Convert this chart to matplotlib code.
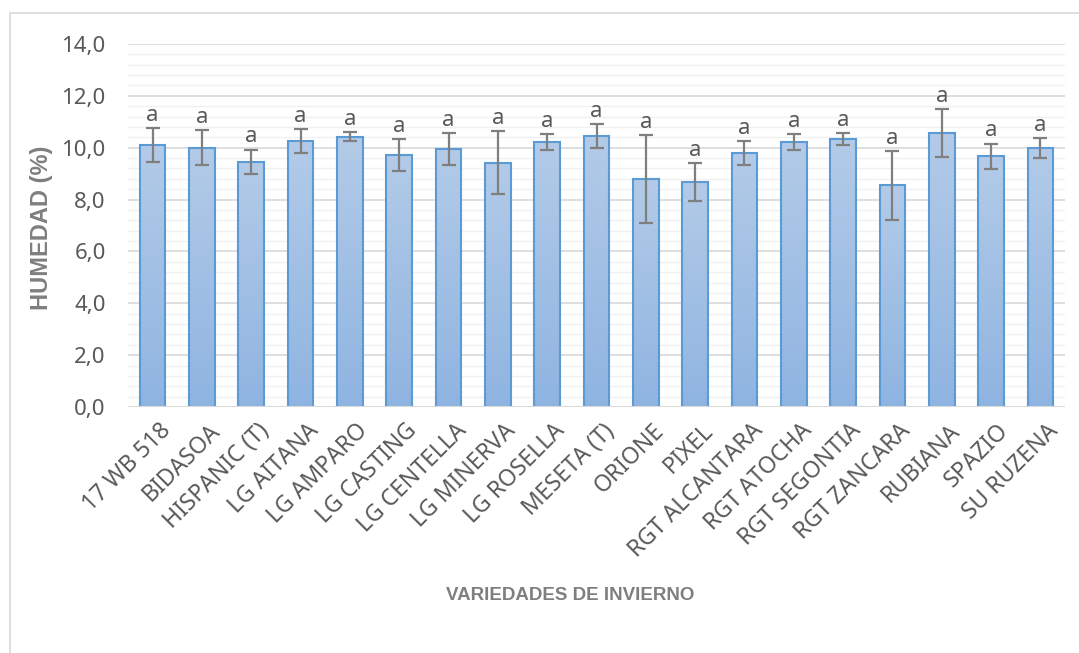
import matplotlib
matplotlib.use("Agg")
import matplotlib.pyplot as plt
import matplotlib.transforms as mtransforms
import numpy as np
from matplotlib.patches import Rectangle
from matplotlib.colors import LinearSegmentedColormap

categories = ["17 WB 518", "BIDASOA", "HISPANIC (T)", "LG AITANA", "LG AMPARO",
              "LG CASTING", "LG CENTELLA", "LG MINERVA", "LG ROSELLA", "MESETA (T)",
              "ORIONE", "PIXEL", "RGT ALCANTARA", "RGT ATOCHA", "RGT SEGONTIA",
              "RGT ZANCARA", "RUBIANA", "SPAZIO", "SU RUZENA"]
humedad = [10.10, 10.00, 9.46, 10.27, 10.43, 9.72, 9.95, 9.42, 10.22, 10.45,
           8.79, 8.68, 9.81, 10.21, 10.32, 8.55, 10.58, 9.67, 10.00]
errores = [0.65, 0.67, 0.47, 0.46, 0.17, 0.60, 0.60, 1.22, 0.30, 0.47,
           1.70, 0.74, 0.46, 0.30, 0.23, 1.32, 0.92, 0.49, 0.39]
letras = ["a"] * 19
yticks = [0, 2, 4, 6, 8, 10, 12, 14]
ytick_labels = ["0,0", "2,0", "4,0", "6,0", "8,0", "10,0", "12,0", "14,0"]

txt_font = "Noto Sans"

W, H = 1079, 653
fig = plt.figure(figsize=(W / 100, H / 100), dpi=100)
fig.patch.set_facecolor("white")

# outer chart border
fig.add_artist(Rectangle((9.5 / W, -0.05), 1.2, (H - 13) / H + 0.05, transform=fig.transFigure,
                         fill=False, edgecolor="#d9d9d9", linewidth=1.2))

ax = fig.add_axes([128 / W, (H - 407) / H, (1065 - 128) / W, (407 - 44) / H])

gray = "#595959"
# gridlines
for v in np.arange(0.4, 14.0, 0.4):
    if abs(v / 2 - round(v / 2)) > 1e-6:
        ax.axhline(v, color="#f0f0f0", linewidth=1.0, zorder=0)
for v in yticks[1:]:
    ax.axhline(v, color="#d9d9d9", linewidth=1.2, zorder=0.5)

x = np.arange(len(categories))
bars = ax.bar(x, humedad, width=0.52, color="none", edgecolor="#5b9bd5", linewidth=1.5, zorder=3)

cmap = LinearSegmentedColormap.from_list("g", ["#8fb4e1", "#b3cbe8"])
grad = np.linspace(0, 1, 256).reshape(-1, 1)
for b in bars:
    x0, w, h = b.get_x(), b.get_width(), b.get_height()
    im = ax.imshow(grad, extent=(x0, x0 + w, 0, h), origin="lower", cmap=cmap,
                   aspect="auto", zorder=2)
    im.set_clip_path(b)
ax.set_xlim(-0.5, len(categories) - 0.5)
ax.set_ylim(0, 14)

ax.errorbar(x, humedad, yerr=errores, fmt="none", ecolor="#7f7f7f", elinewidth=1.6,
            capsize=5, capthick=1.6, zorder=4)

for xi, v, e, t in zip(x, humedad, errores, letras):
    ax.annotate(t, (xi, v + e), xytext=(0, 1.5), textcoords="offset points",
                ha="center", va="bottom", fontsize=16, color=gray, family=txt_font)

ax.axhline(0, color="#d9d9d9", linewidth=1.5, zorder=5)
for s in ax.spines.values():
    s.set_visible(False)
ax.set_yticks(yticks)
ax.set_yticklabels(ytick_labels, fontsize=16, color=gray, family=txt_font)
ax.set_xticks(x)
ax.set_xticklabels(categories, rotation=45, ha="right", rotation_mode="anchor",
                   fontsize=16.5, color=gray, family=txt_font)
ax.tick_params(axis="both", length=0)
ax.tick_params(axis="y", pad=16)
ax.tick_params(axis="x", pad=10)
offset = mtransforms.ScaledTranslation(6 / 100, 2 / 100, fig.dpi_scale_trans)
for lbl in ax.get_xticklabels():
    lbl.set_transform(lbl.get_transform() + offset)

fig.text(42 / W, 1 - 228 / H, "HUMEDAD (%)", rotation=90, ha="center", va="center",
         fontsize=17, fontweight="bold", color="#7f7f7f", family="Liberation Sans")
fig.text(570 / W, 1 - 595 / H, "VARIEDADES DE INVIERNO", ha="center", va="center",
         fontsize=13.5, fontweight="bold", color="#7f7f7f", family="Liberation Sans")

fig.savefig("out.png", dpi=100, facecolor="white")
